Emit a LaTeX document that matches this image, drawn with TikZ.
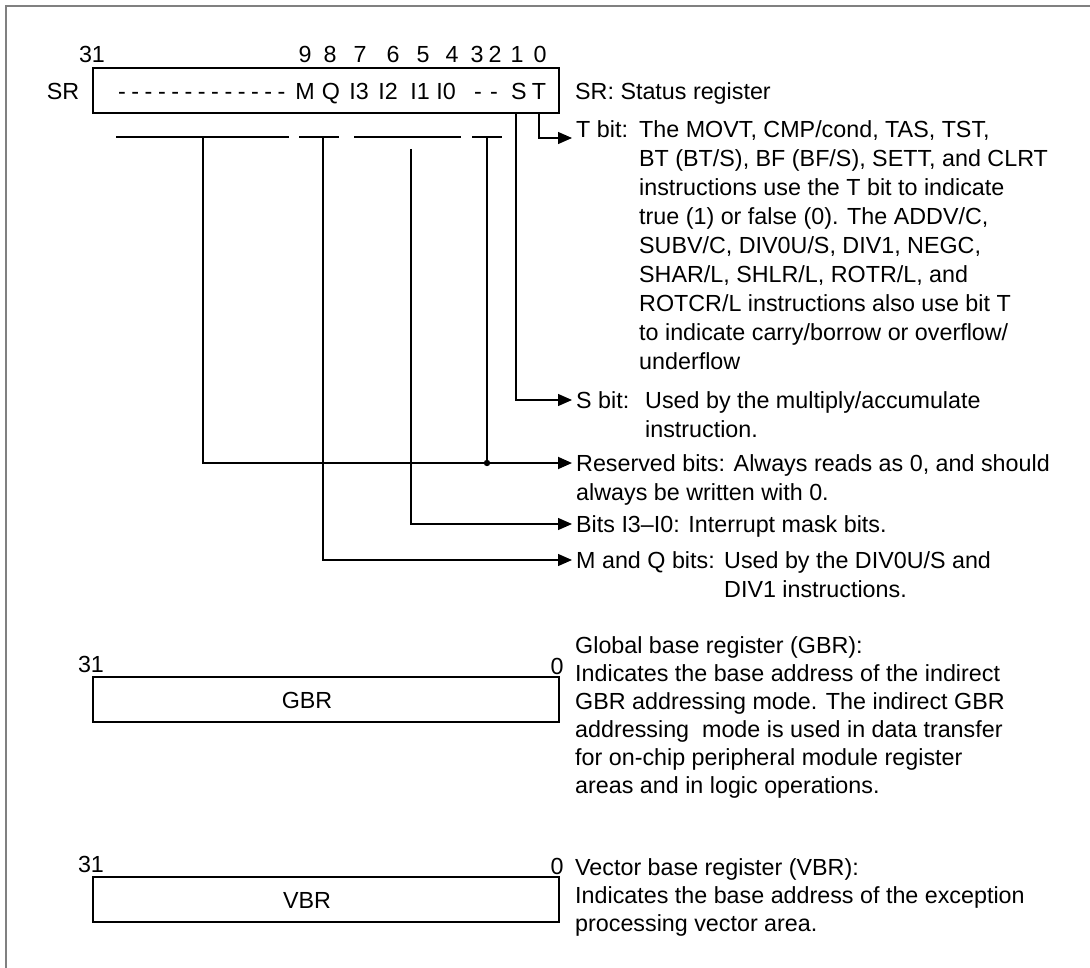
\documentclass[tikz,border=0pt]{standalone}
\usepackage{fontspec}
\setmainfont{Liberation Sans}
\usetikzlibrary{arrows.meta}

\tikzset{
  regbox/.style={draw, line width=1.4pt, minimum width=466pt, minimum height=45pt, inner sep=0pt},
  lbl/.style={anchor=base, inner sep=0pt},
  txt/.style={anchor=base west, inner sep=0pt},
  conn/.style={line width=1.3pt},
  toarrow/.style={conn, -{Triangle[length=14pt,width=12pt]}},
}

\begin{document}
\begin{tikzpicture}[x=1pt, y=-1pt, font=\fontsize{23.3}{28.5}\selectfont]
	\useasboundingbox (0,0) rectangle (1090,968);
	\draw [line width=2.4pt, gray] (6,968) -- (6,6) -- (1090,6);

% status register
	\node[lbl] (sr31) at (92,63) {31};
	\foreach \b/\x in {9/305, 8/330, 7/360, 6/393, 5/423, 4/452, 3/477, 2/495, 1/517, 0/540}
		\node[lbl] (d\b) at (\x,63) {\b};
	\node[lbl] (srname) at (63,100) {SR};
	\node[regbox] (srbox) at (326,90.5) {};
	\foreach \i in {0,...,12}
		\node[lbl] (dash\i) at (122+\i*13.3,100) {-};
	\foreach \n/\t/\x in {bM/M/305, bQ/Q/331, bIiii/I3/359, bIii/I2/388, bIi/I1/420, bIo/I0/446,
		bRi/-/478, bRo/-/494, bS/S/519, bT/T/539}
		\node[lbl] (\n) at (\x,100) {\t};
	\node[txt] (srtxt) at (575,100) {SR: Status register};

% bars under the fields
	\draw [conn] (116,137) -- (289,137);
	\draw [conn] (299,137) -- (339,137);
	\draw [conn] (354,137) -- (461,137);
	\draw [conn] (472,137) -- (502,137);

	\coordinate (tTop) at (539,113.7);
	\coordinate (sTop) at (516,113.7);
	\coordinate (resL) at (203,137);
	\coordinate (resR) at (487,137);
	\coordinate (intTop) at (411,149);
	\coordinate (mqTop) at (323,137);
	\coordinate (tTip) at (572,138);
	\coordinate (sTip) at (572,400);
	\coordinate (resDot) at (487,463);
	\coordinate (resTip) at (572,463);
	\coordinate (intTip) at (572,524);
	\coordinate (mqTip) at (572,560);

	\draw [toarrow] (tTop) |- (tTip);
	\draw [toarrow] (sTop) |- (sTip);
	\draw [conn] (resL) |- (resDot);
	\draw [conn] (resR) -- (resDot);
	\draw [toarrow, line width=1.8pt] (resDot) -- (resTip);
	\fill (resDot) circle (3.2pt);
	\draw [toarrow] (intTop) |- (intTip);
	\draw [toarrow] (mqTop) |- (mqTip);

	\node[txt, font=\fontsize{23.3}{29}\selectfont] (tbit) at (576,138) {\begin{tabular}[t]{@{}p{63pt}@{}l@{}}
		T bit: & The MOVT, CMP/cond, TAS, TST,\\
		& BT (BT/S), BF (BF/S), SETT, and CLRT\\
		& instructions use the T bit to indicate\\
		& true (1) or false (0). The ADDV/C,\\
		& SUBV/C, DIV0U/S, DIV1, NEGC,\\
		& SHAR/L, SHLR/L, ROTR/L, and\\
		& ROTCR/L instructions also use bit T\\
		& to indicate carry/borrow or overflow/\\
		& underflow\end{tabular}};
	\node[txt] (sbit) at (576,408.5) {\begin{tabular}[t]{@{}p{69pt}@{}l@{}}
		S bit: & Used by the multiply/accumulate\\
		& instruction.\end{tabular}};
	\node[txt] (resbits) at (576,471.5) {\begin{tabular}[t]{@{}l@{}}
		Reserved bits: Always reads as 0, and should\\
		always be written with 0.\end{tabular}};
	\node[txt] (intbits) at (576,532.5) {Bits I3--I0: Interrupt mask bits.};
	\node[txt] (mqbits) at (576,568.5) {\begin{tabular}[t]{@{}p{148pt}@{}l@{}}
		M and Q bits: & Used by the DIV0U/S and\\
		& DIV1 instructions.\end{tabular}};

% global base register
	\node[lbl] (gbr31) at (91,672) {31};
	\node[lbl] (gbr0) at (557,674) {0};
	\node[regbox] (gbrbox) at (326,699.5) {};
	\node[lbl] (gbrname) at (307,708.5) {GBR};
	\node[txt, font=\fontsize{23.3}{28.1}\selectfont] (gbrtxt) at (575,653) {\begin{tabular}[t]{@{}l@{}}
		Global base register (GBR):\\
		Indicates the base address of the indirect\\
		GBR addressing mode. The indirect GBR\\
		addressing\ \ mode is used in data transfer\\
		for on-chip peripheral module register\\
		areas and in logic operations.\end{tabular}};

% vector base register
	\node[lbl] (vbr31) at (91,872) {31};
	\node[lbl] (vbr0) at (557,874) {0};
	\node[regbox] (vbrbox) at (326,899.5) {};
	\node[lbl] (vbrname) at (307,908.5) {VBR};
	\node[txt, font=\fontsize{23.3}{28}\selectfont] (vbrtxt) at (575,875.5) {\begin{tabular}[t]{@{}l@{}}
		Vector base register (VBR):\\
		Indicates the base address of the exception\\
		processing vector area.\end{tabular}};
\end{tikzpicture}
\end{document}
